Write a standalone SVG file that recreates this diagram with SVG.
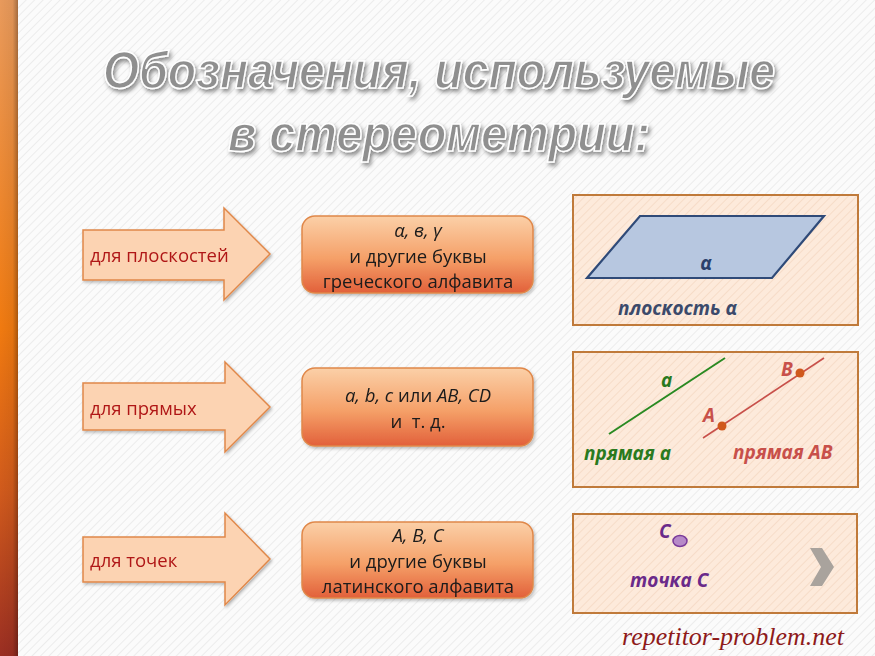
<svg xmlns="http://www.w3.org/2000/svg" width="875" height="656" viewBox="0 0 875 656">
<defs>
  <pattern id="hatch" width="6" height="6" patternUnits="userSpaceOnUse" patternTransform="rotate(45)">
    <rect width="6" height="6" fill="#fbfbfb"/>
    <line x1="0" y1="0" x2="0" y2="6" stroke="#ececec" stroke-width="2"/>
  </pattern>
  <pattern id="hatchPeach" width="6" height="6" patternUnits="userSpaceOnUse" patternTransform="rotate(45)">
    <rect width="6" height="6" fill="#fdeadb"/>
    <line x1="0" y1="0" x2="0" y2="6" stroke="#f6dcc8" stroke-width="2"/>
  </pattern>
  <linearGradient id="bar" x1="0" y1="0" x2="0" y2="1">
    <stop offset="0" stop-color="#e89a5c"/>
    <stop offset="0.5" stop-color="#f07a10"/>
    <stop offset="0.75" stop-color="#d05a1c"/>
    <stop offset="1" stop-color="#9a2e22"/>
  </linearGradient>
  <linearGradient id="barShade" x1="0" y1="0" x2="1" y2="0">
    <stop offset="0" stop-color="#000" stop-opacity="0"/>
    <stop offset="0.7" stop-color="#000" stop-opacity="0.05"/>
    <stop offset="1" stop-color="#000" stop-opacity="0.3"/>
  </linearGradient>
  <linearGradient id="box" x1="0" y1="0" x2="0" y2="1">
    <stop offset="0" stop-color="#fbd0a8"/>
    <stop offset="0.55" stop-color="#f5a068"/>
    <stop offset="1" stop-color="#e2603a"/>
  </linearGradient>
  <filter id="shadow" x="-10%" y="-20%" width="120%" height="150%">
    <feDropShadow dx="2" dy="3" stdDeviation="2" flood-color="#000" flood-opacity="0.45"/>
  </filter>
  <filter id="soft" x="-10%" y="-10%" width="130%" height="140%">
    <feDropShadow dx="1.5" dy="2" stdDeviation="1.5" flood-color="#000" flood-opacity="0.25"/>
  </filter>
</defs>
<style>
  .title { font-family: "Liberation Sans", "DejaVu Sans", sans-serif; font-weight: bold; font-style: italic; font-size: 52px; fill: #8f8f8f; stroke: #ffffff; stroke-width: 1.6px; }
  .arrow { fill: #fcd3b2; stroke: #e0884a; stroke-width: 1.5; }
  .alabel { font-family: "Open Sans", "Noto Sans", sans-serif; font-size: 18.5px; fill: #b01818; }
  .box { fill: url(#box); stroke: #e0884a; stroke-width: 1.5; }
  .btext { font-family: "Open Sans", "Noto Sans", sans-serif; font-size: 18.5px; fill: #1a1a1a; text-anchor: middle; }
  .it { font-style: italic; }
  .panel { fill: url(#hatchPeach); stroke: #c07a3a; stroke-width: 2; }
  .lbl { font-family: "Open Sans", "Noto Sans", sans-serif; font-weight: bold; font-style: italic; font-size: 19px; }
</style>

<rect x="0" y="0" width="875" height="656" fill="url(#hatch)"/>
<rect x="0" y="0" width="18" height="656" fill="url(#bar)"/>
<rect x="0" y="0" width="18" height="656" fill="url(#barShade)"/>

<g id="title" filter="url(#shadow)">
  <text class="title" x="103" y="88" textLength="672" lengthAdjust="spacingAndGlyphs">Обозначения, используемые</text>
  <text class="title" x="228" y="151" textLength="422" lengthAdjust="spacingAndGlyphs">в стереометрии:</text>
</g>

<g id="arrow-planes" filter="url(#soft)">
  <path class="arrow" d="M83,230 H224 V208 L270,254 L224,300 V280 H83 Z"/>
  <text class="alabel" x="90" y="262">для плоскостей</text>
</g>
<g id="arrow-lines" filter="url(#soft)">
  <path class="arrow" d="M83,383 H225 V362 L270,407 L225,452 V430 H83 Z"/>
  <text class="alabel" x="90" y="415">для прямых</text>
</g>
<g id="arrow-points" filter="url(#soft)">
  <path class="arrow" d="M83,537 H225 V513 L270,559 L225,605 V582 H83 Z"/>
  <text class="alabel" x="90" y="567">для точек</text>
</g>

<g id="box-planes" filter="url(#soft)">
  <rect class="box" x="302" y="216" width="231" height="77" rx="13"/>
  <text class="btext it" x="418" y="237">α, в, γ</text>
  <text class="btext" x="418" y="263">и другие буквы</text>
  <text class="btext" x="418" y="288">греческого алфавита</text>
</g>
<g id="box-lines" filter="url(#soft)">
  <rect class="box" x="302" y="368" width="231" height="78" rx="13"/>
  <text class="btext" x="418" y="402"><tspan class="it">a, b, c</tspan> или <tspan class="it">AB, CD</tspan></text>
  <text class="btext" x="418" y="428" xml:space="preserve">и  т. д.</text>
</g>
<g id="box-points" filter="url(#soft)">
  <rect class="box" x="302" y="522" width="231" height="76" rx="13"/>
  <text class="btext it" x="418" y="542">A, B, C</text>
  <text class="btext" x="418" y="568">и другие буквы</text>
  <text class="btext" x="418" y="593">латинского алфавита</text>
</g>

<g id="panel-plane">
  <rect class="panel" x="573" y="195" width="285" height="130"/>
  <polygon points="640,216 824,216 772,278 587,278" fill="#b7c7e0" stroke="#2f4a78" stroke-width="2.2"/>
  <text class="lbl" x="706" y="270" fill="#2a3f6a" text-anchor="middle">α</text>
  <text class="lbl" x="618" y="315" fill="#3b4a6b">плоскость α</text>
</g>

<g id="panel-lines">
  <rect class="panel" x="573" y="352" width="285" height="135"/>
  <line x1="609" y1="434" x2="725" y2="358" stroke="#2a8a22" stroke-width="2"/>
  <text class="lbl" x="661" y="387" fill="#2a7a1e">a</text>
  <text class="lbl" x="584" y="460" fill="#2a7a1e">прямая a</text>
  <line x1="703" y1="438" x2="824" y2="358" stroke="#c8504a" stroke-width="1.6"/>
  <circle cx="722" cy="426" r="4.5" fill="#d0581c"/>
  <circle cx="800" cy="373" r="4.5" fill="#d0581c"/>
  <text class="lbl" x="703" y="422" fill="#c8504a">A</text>
  <text class="lbl" x="781" y="376" fill="#c8504a">B</text>
  <text class="lbl" x="733" y="459" fill="#c8504a">прямая AB</text>
</g>

<g id="panel-point">
  <rect class="panel" x="573" y="514" width="284" height="99"/>
  <ellipse cx="680" cy="541" rx="7" ry="5.5" fill="#b78ac8" stroke="#7a3a9a" stroke-width="1.5"/>
  <text class="lbl" x="659" y="538" fill="#6a2a8a">C</text>
  <text class="lbl" x="630" y="587" fill="#6a2a8a">точка C</text>
  <polygon points="810,548 822,548 834,567 822,586 810,586 821,567" fill="#a9a39d"/>
</g>

<text x="622" y="645" font-family="Liberation Serif, serif" font-style="italic" font-size="26" fill="#8e1a1a" textLength="222" lengthAdjust="spacingAndGlyphs">repetitor-problem.net</text>
</svg>
